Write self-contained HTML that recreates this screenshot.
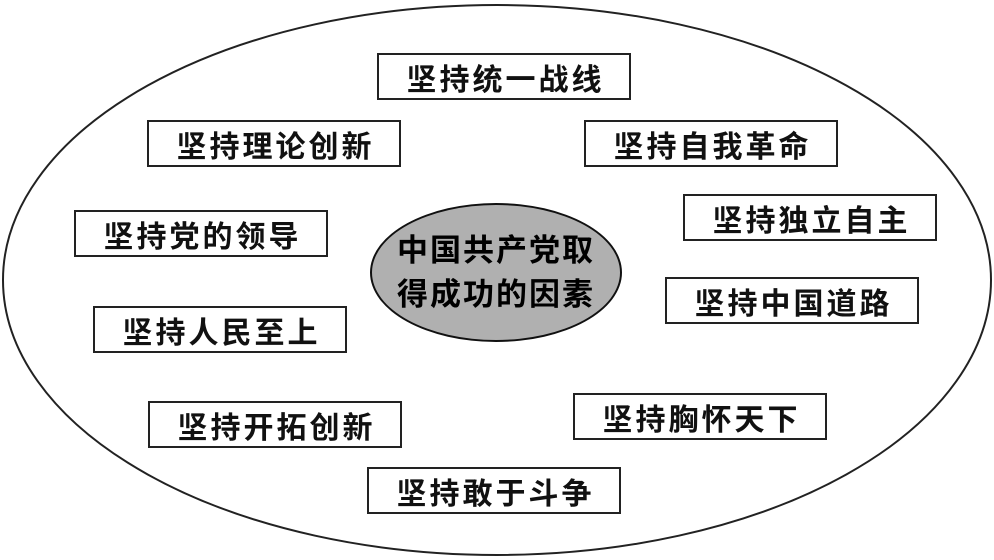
<!DOCTYPE html>
<html><head><meta charset="utf-8"><style>
body{margin:0;width:994px;height:560px;background:#fff;position:relative;overflow:hidden;font-family:"Liberation Sans","Noto Sans CJK SC",sans-serif;}
.b{position:absolute;border:2px solid #222;box-sizing:border-box;width:254px;height:47px;display:flex;align-items:center;justify-content:center;font-size:30px;font-weight:bold;color:#111;background:#fff;letter-spacing:3px;padding-left:3px}
.c{position:absolute;left:370px;top:203px;width:252px;height:139px;box-sizing:border-box;border:2px solid #111;border-radius:50%;background:#b0b0b0;display:flex;flex-direction:column;align-items:center;justify-content:center;font-size:31px;font-weight:bold;line-height:44px;color:#000;letter-spacing:2px}
</style></head><body>
<svg width="994" height="560" style="position:absolute;left:0;top:0"><ellipse cx="497" cy="280" rx="494" ry="275" fill="none" stroke="#222" stroke-width="2"/></svg>
<div class="b" style="left:377px;top:53px">坚持统一战线</div>
<div class="b" style="left:147px;top:120px">坚持理论创新</div>
<div class="b" style="left:584px;top:120px">坚持自我革命</div>
<div class="b" style="left:74px;top:210px">坚持党的领导</div>
<div class="b" style="left:683px;top:194px">坚持独立自主</div>
<div class="b" style="left:665px;top:277px">坚持中国道路</div>
<div class="b" style="left:93px;top:306px">坚持人民至上</div>
<div class="b" style="left:148px;top:401px">坚持开拓创新</div>
<div class="b" style="left:573px;top:393px">坚持胸怀天下</div>
<div class="b" style="left:367px;top:467px">坚持敢于斗争</div>
<div class="c"><div>中国共产党取</div><div>得成功的因素</div></div>
</body></html>
